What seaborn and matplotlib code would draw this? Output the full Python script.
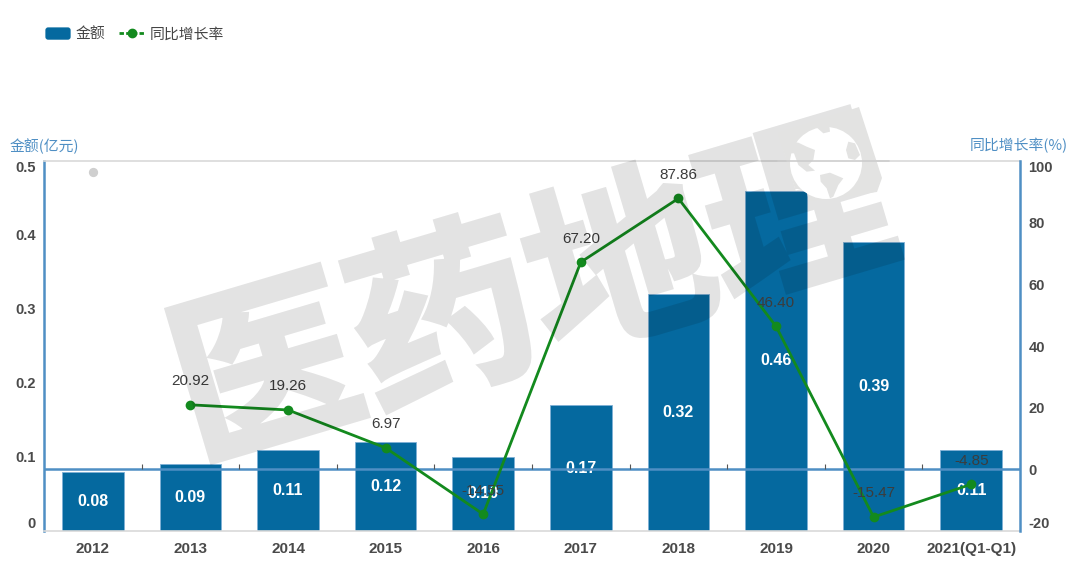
import matplotlib
matplotlib.use("Agg")
import matplotlib.patheffects as pe
import matplotlib.pyplot as plt
import numpy as np
import pandas as pd
import seaborn as sns
from matplotlib.legend_handler import HandlerPatch
from matplotlib.lines import Line2D
from matplotlib.patches import Circle, FancyBboxPatch, Patch, Polygon
from matplotlib.transforms import Affine2D

years = ["2012", "2013", "2014", "2015", "2016", "2017", "2018", "2019", "2020", "2021(Q1-Q1)"]
amounts = [0.08, 0.09, 0.11, 0.12, 0.10, 0.17, 0.32, 0.46, 0.39, 0.11]
amount_labels = ["0.08", "0.09", "0.11", "0.12", "0.10", "0.17", "0.32", "0.46", "0.39", "0.11"]
growth = [np.nan, 20.92, 19.26, 6.97, -14.55, 67.20, 87.86, 46.40, -15.47, -4.85]
stray_point = [96.5]

left_ticks = [0, 0.1, 0.2, 0.3, 0.4, 0.5]
right_ticks = [-20, 0, 20, 40, 60, 80, 100]

BLUE = "#05699f"
GREEN = "#138a1e"
AXIS_BLUE = "#4f8fc4"
TEXT = "#4a4a4a"
LOGO_GRAY = "#e3e3e2"
CJK = ["Noto Sans CJK SC", "DejaVu Sans"]
W, H = 1080, 584


def px(points):
    """Picture pixels (top-left origin) to figure fractions."""
    return [(x / W, 1 - y / H) for x, y in points]


def globe_px(points):
    """Pixels of the 3x crop around the globe to figure fractions."""
    return px([(780 + x / 3, 100 + y / 3) for x, y in points])


def watermark_alpha(image, dpi):
    image = image.copy()
    image[..., 3] *= 0.11
    return image, 0, 0


class RoundedHandler(HandlerPatch):
    def create_artists(self, legend, orig_handle, xdescent, ydescent, width, height, fontsize, trans):
        box = FancyBboxPatch((-xdescent + 2, -ydescent + 2), width - 4, height - 4,
                             boxstyle="round,pad=2", facecolor=BLUE, edgecolor="none", transform=trans)
        return [box]


sns.set_theme(style="white")
plt.rcParams["font.family"] = ["Liberation Sans", "Noto Sans CJK SC", "DejaVu Sans"]

df = pd.DataFrame({"year": years, "amount": amounts, "growth": growth})

fig = plt.figure(figsize=(W / 100, H / 100), dpi=100)
ax = fig.add_axes([44 / W, 1 - 531 / H, 976 / W, 370 / H])

sns.barplot(data=df, x="year", y="amount", order=years, color=BLUE, saturation=1,
            width=0.63, edgecolor="#7fb0d6", linewidth=0.6, ax=ax)
ax.set_xlim(-0.5, 9.5)
ax.set_ylim(0, 0.5)
ax.set_xlabel("")
ax.set_ylabel("")
ax.bar_label(ax.containers[0], labels=amount_labels, label_type="center",
             color="white", fontsize=11.5, fontweight="bold")

ax.set_yticks(left_ticks)
ax.set_yticklabels(["0", "0.1", "0.2", "0.3", "0.4", "0.5"], fontsize=10.5,
                   fontweight="bold", color=TEXT)
ax.get_yticklabels()[0].set_va("bottom")
ax.get_yticklabels()[-1].set_va("top")
ax.tick_params(axis="y", length=0, pad=6)
ax.tick_params(axis="x", length=0, pad=8)
for label in ax.get_xticklabels():
    label.set_fontsize(11)
    label.set_fontweight("bold")
    label.set_color(TEXT)

for side in ["top", "bottom"]:
    ax.spines[side].set_color("#d9d9d9")
    ax.spines[side].set_linewidth(1.2)
ax.spines["left"].set_color(AXIS_BLUE)
ax.spines["left"].set_linewidth(1.8)
ax.spines["right"].set_visible(False)

ax2 = ax.twinx()
ax2.set_ylim(-19.35, 100)
ax2.axhline(0, color=AXIS_BLUE, lw=1.8, zorder=1)
# little ticks sit on the zero line, between the categories
ax2.vlines(np.arange(len(years)) + 0.5, 0, 1.6, color="#555555", lw=0.8, zorder=1)

sns.pointplot(data=df, x="year", y="growth", order=years, color=GREEN, markers="o",
              markersize=5.5, linewidth=2, errorbar=None, ax=ax2, zorder=4)
ax2.scatter([0], stray_point, s=32, color="#cfcfcf", zorder=3)
ax2.set_xlim(-0.5, 9.5)
ax2.set_xlabel("")
ax2.set_ylabel("")

for i, value in enumerate(growth):
    if np.isnan(value):
        continue
    ax2.annotate(f"{value:.2f}", (i, value), xytext=(0, 17), textcoords="offset points",
                 ha="center", va="center", fontsize=11, color="#3c3c3c", zorder=5)

ax2.set_yticks(right_ticks)
ax2.set_yticklabels([str(t) for t in right_ticks], fontsize=10.5, fontweight="bold", color=TEXT)
ax2.get_yticklabels()[0].set_va("bottom")
ax2.get_yticklabels()[-1].set_va("top")
ax2.tick_params(axis="y", length=0, pad=6)
for side in ["top", "bottom", "left"]:
    ax2.spines[side].set_visible(False)
ax2.spines["right"].set_color(AXIS_BLUE)
ax2.spines["right"].set_linewidth(1.8)

fig.text(10 / W, 1 - 146 / H, "金额(亿元)", color=AXIS_BLUE, fontsize=10.7,
         ha="left", va="center", family=CJK)
fig.text(1068 / W, 1 - 146 / H, "同比增长率(%)", color=AXIS_BLUE, fontsize=10.7,
         ha="right", va="center", family=CJK)

handles = [Patch(facecolor=BLUE),
           Line2D([0], [0], color=GREEN, lw=2, marker="o", markersize=6, linestyle=(0, (1.6, 0.8)))]
fig.legend(handles, ["金额", "同比增长率"], loc="upper left", bbox_to_anchor=(32 / W, 1 - 14 / H),
           ncol=2, frameon=False, handlelength=1.7, handleheight=0.9, handletextpad=0.35,
           columnspacing=0.9, prop={"family": CJK, "size": 10.7}, labelcolor="#444444",
           handler_map={Patch: RoundedHandler()})

# watermark: black at low alpha so it darkens the bars, stroked to get the heavy logo glyphs
mark = fig.text(534 / W, 1 - 300 / H, "医药地理", fontsize=133, fontweight="bold", color="black",
                rotation=16.5, ha="center", va="center", family=CJK, zorder=6,
                path_effects=[pe.withStroke(linewidth=3.5, foreground="black", joinstyle="miter")])
mark.set_agg_filter(watermark_alpha)

# globe block in the top corner of the last glyph
logo = [(778, 133), (859, 107), (882, 178), (877, 192), (809, 201), (806, 189), (795, 189)]
fig.add_artist(Polygon(px(logo), closed=True, transform=fig.transFigure, facecolor=LOGO_GRAY,
                       edgecolor="none", zorder=7))
pixel_trans = Affine2D().scale(1 / W, 1 / H) + fig.transFigure
fig.add_artist(Circle((826, H - 163), 36, transform=pixel_trans, facecolor="white",
                      edgecolor="none", zorder=8))
land = [
    [(28, 125), (55, 128), (80, 140), (105, 150), (100, 180), (85, 195), (105, 212), (80, 215), (55, 195), (42, 160), (28, 160)],
    [(105, 78), (130, 100), (150, 95), (148, 78)],
    [(205, 125), (225, 130), (240, 165), (225, 180), (205, 175), (198, 150)],
    [(120, 225), (150, 218), (190, 235), (175, 255), (160, 290), (150, 295), (140, 265), (122, 245)],
]
for shape in land:
    fig.add_artist(Polygon(globe_px(shape), closed=True, transform=fig.transFigure, facecolor=LOGO_GRAY,
                           edgecolor="none", zorder=9))
fig.add_artist(Line2D([778 / W, 889 / W], [1 - 161 / H, 1 - 161 / H], transform=fig.transFigure,
                      color="#cdcdcd", lw=1.2, zorder=10))

fig.savefig("out.png", dpi=100)
